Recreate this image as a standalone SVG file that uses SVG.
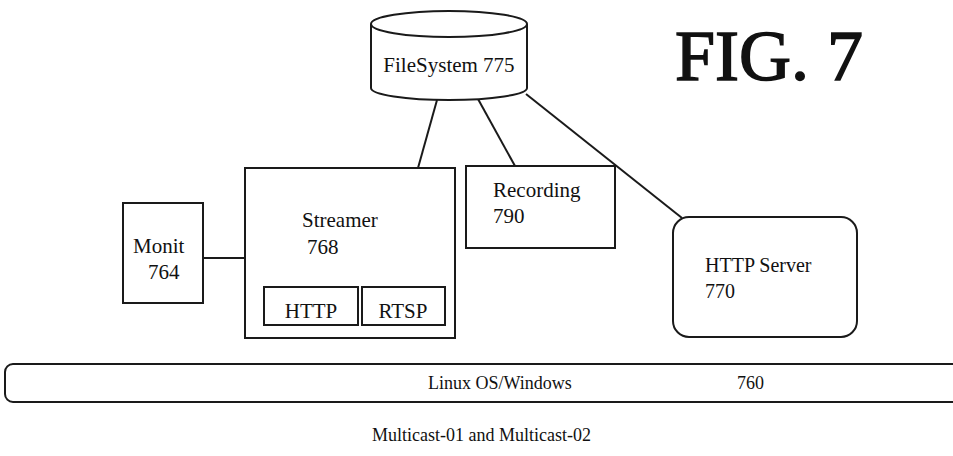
<svg xmlns="http://www.w3.org/2000/svg" width="953" height="456" viewBox="0 0 953 456">
<style>
.s{fill:none;stroke:#1a1a1a;stroke-width:2}
.w{fill:#fff;stroke:#1a1a1a;stroke-width:2}
text{font-family:"Liberation Serif","Times New Roman",serif;fill:#111;font-size:21px}
.sm{font-size:18px}
.fig{font-size:72px;stroke:#111;stroke-width:1.5}
</style>
<rect width="953" height="456" fill="#fff"/>
<g id="connectors">
<line class="s" x1="203" y1="258" x2="245" y2="258"/>
<line class="s" x1="437" y1="100" x2="418" y2="168"/>
<line class="s" x1="478" y1="99" x2="515" y2="166"/>
<line class="s" x1="526" y1="94" x2="682" y2="218"/>
</g>
<g id="filesystem">
<path class="w" d="M371,24 L371,88 A78,12 0 0 0 527,88 L527,24"/>
<ellipse class="w" cx="449" cy="24" rx="78" ry="13"/>
<text x="449" y="72" text-anchor="middle">FileSystem 775</text>
</g>
<g id="monit">
<rect class="w" x="123" y="203" width="80" height="100"/>
<text x="133" y="253">Monit</text>
<text x="148" y="279">764</text>
</g>
<g id="streamer">
<rect class="w" x="245" y="168" width="210" height="170"/>
<text x="302" y="227">Streamer</text>
<text x="307" y="254">768</text>
</g>
<g id="http">
<rect class="w" x="264" y="287" width="94" height="38"/>
<text x="311" y="318" text-anchor="middle">HTTP</text>
</g>
<g id="rtsp">
<rect class="w" x="362" y="287" width="83" height="38"/>
<text x="403" y="318" text-anchor="middle">RTSP</text>
</g>
<g id="recording">
<rect class="w" x="466" y="166" width="149" height="82"/>
<text x="493" y="197">Recording</text>
<text x="493" y="223">790</text>
</g>
<g id="httpserver">
<rect class="w" x="673" y="217" width="184" height="120" rx="16"/>
<text x="705" y="272" style="font-size:20px">HTTP Server</text>
<text x="705" y="298" style="font-size:20px">770</text>
</g>
<g id="os">
<rect class="w" x="5" y="364" width="970" height="38" rx="8"/>
<text class="sm" x="428" y="389">Linux OS/Windows</text>
<text class="sm" x="737" y="389">760</text>
</g>
<text class="sm" x="372" y="441">Multicast-01 and Multicast-02</text>
<text class="fig" x="675" y="80">FIG. 7</text>
</svg>
